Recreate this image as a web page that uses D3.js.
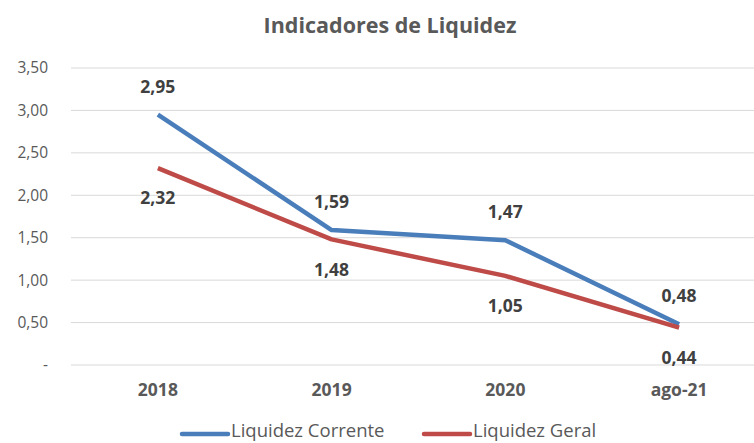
<!DOCTYPE html>
<html>
<head>
<meta charset="utf-8">
<script src="https://cdn.jsdelivr.net/npm/d3@7"></script>
<style>
  body { margin: 0; background: #fff; }
  svg { display: block; font-family: "Open Sans", Lato, sans-serif; }
</style>
</head>
<body>
<svg id="chart" width="754" height="443"></svg>
<script>
// chart data
const categories = ["2018", "2019", "2020", "ago-21"];
const corrente = [2.95, 1.59, 1.47, 0.48];
const geral = [2.32, 1.48, 1.05, 0.44];
const yTicks = [0, 0.5, 1, 1.5, 2, 2.5, 3, 3.5];
const seriesNames = ["Liquidez Corrente", "Liquidez Geral"];

const svg = d3.select("#chart");
const plotLeft = 71, plotRight = 766, plotTop = 68, plotBottom = 365;

let x = d3.scalePoint().domain(categories).range([plotLeft, plotRight]).padding(0.5);
let y = d3.scaleLinear().domain([0, 3.5]).range([plotBottom, plotTop]);

const fmt = v => v === 0 ? "-" : d3.format(".2f")(v).replace(".", ",");

// gridlines
svg.append("g").selectAll("line")
    .data(yTicks).enter().append("line")
    .attr("x1", plotLeft).attr("x2", plotRight)
    .attr("y1", d => y(d)).attr("y2", d => y(d))
    .attr("stroke", "#d9d9d9").attr("stroke-width", 1);

// y axis labels
svg.append("g").selectAll("text")
    .data(yTicks).enter().append("text")
    .attr("x", 48).attr("y", d => y(d))
    .attr("dy", "0.35em")
    .attr("text-anchor", "end")
    .attr("font-size", 15.5)
    .attr("fill", "#595959")
    .text(fmt);

// x axis labels
svg.append("g").selectAll("text")
    .data(categories).enter().append("text")
    .attr("x", d => x(d)).attr("y", 390)
    .attr("dy", "0.35em")
    .attr("text-anchor", "middle")
    .attr("font-size", 17.5)
    .attr("font-weight", "bold")
    .attr("fill", "#595959")
    .text(d => d);

// title
svg.append("text")
    .attr("x", 390).attr("y", 25)
    .attr("dy", "0.35em")
    .attr("text-anchor", "middle")
    .attr("font-size", 21.5)
    .attr("font-weight", "bold")
    .attr("fill", "#595959")
    .text("Indicadores de Liquidez");

const series = [
    {name: seriesNames[0], values: corrente, color: "#4a7ebb", labelDy: -28},
    {name: seriesNames[1], values: geral, color: "#be4b48", labelDy: 30}
];

let line = d3.line()
    .x((d, i) => x(categories[i]))
    .y(d => y(d));

series.forEach(s => {
    svg.append("path")
        .datum(s.values)
        .attr("d", line)
        .attr("fill", "none")
        .attr("stroke", s.color)
        .attr("stroke-width", 4.5)
        .attr("stroke-linejoin", "round");
});

// data labels
series.forEach(s => {
    svg.append("g").selectAll("text")
        .data(s.values).enter().append("text")
        .attr("x", (d, i) => x(categories[i]))
        .attr("y", d => y(d) + s.labelDy)
        .attr("dy", "0.35em")
        .attr("text-anchor", "middle")
        .attr("font-size", 17.5)
        .attr("font-weight", "bold")
        .attr("fill", "#404040")
        .text(fmt);
});

// legend
let legendX = [182, 424];
series.forEach((s, i) => {
    svg.append("line")
        .attr("x1", legendX[i]).attr("x2", legendX[i] + 46)
        .attr("y1", 434).attr("y2", 434)
        .attr("stroke", s.color).attr("stroke-width", 4.5)
        .attr("stroke-linecap", "round");
    svg.append("text")
        .attr("x", legendX[i] + 49).attr("y", 431)
        .attr("dy", "0.35em")
        .attr("font-size", 18.5)
        .attr("font-weight", 500)
        .attr("fill", "#595959")
        .text(s.name);
});
</script>
</body>
</html>
